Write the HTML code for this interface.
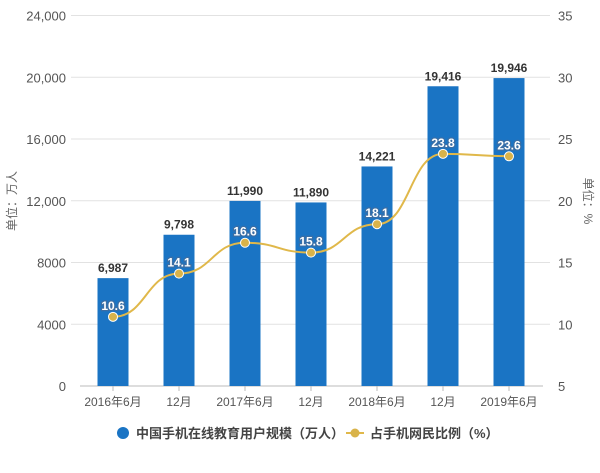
<!DOCTYPE html>
<html><head><meta charset="utf-8"><style>
body{margin:0;background:#fff;}
svg text{font-family:"Liberation Sans","Noto Sans CJK SC",sans-serif;}
</style></head><body>
<svg id="c" width="600" height="468" xmlns="http://www.w3.org/2000/svg"></svg>
<script>
const categories=["2016年6月","12月","2017年6月","12月","2018年6月","12月","2019年6月"];
const users=[6987,9798,11990,11890,14221,19416,19946];
const ratio=[10.6,14.1,16.6,15.8,18.1,23.8,23.6];
const leftTicks=[0,4000,8000,12000,16000,20000,24000];
const rightTicks=[5,10,15,20,25,30,35];
const NS="http://www.w3.org/2000/svg";
const svg=document.getElementById('c');
const yTop=15.5,bot=386,x0=80,band=66;
const yL=v=>bot-(v/24000)*(bot-yTop);
const yR=v=>bot-((v-5)/30)*(bot-yTop);
const xC=i=>x0+band*(i+0.5);
function el(t,a,txt){const e=document.createElementNS(NS,t);for(const k in a)e.setAttribute(k,a[k]);if(txt!==undefined)e.textContent=txt;svg.appendChild(e);return e;}
leftTicks.forEach(v=>{
 if(v>0){const g=el('line',{x1:71,x2:550,y1:yL(v),y2:yL(v),stroke:'#e2e2e2','stroke-width':1});
 
 }
 const t=el('text',{x:66,y:yL(v)+5,'text-anchor':'end','font-size':13,fill:'#555'},v>=10000?v.toLocaleString('en-US'):String(v));
 
 
});
rightTicks.forEach(v=>{
 const t=el('text',{x:558,y:yR(v)+5,'font-size':13,fill:'#555'},String(v));
 
 
});
const ax=el('line',{x1:80,x2:543,y1:bot,y2:bot,stroke:'#bbb','stroke-width':1});


categories.forEach((c,i)=>{
 const tk=el('line',{x1:xC(i),x2:xC(i),y1:bot,y2:bot+5,stroke:'#bbb'});
 
 
 const t=el('text',{x:xC(i),y:406,'text-anchor':'middle','font-size':12,fill:'#555'},c);
 
 
});
users.forEach((v,i)=>{
 const r=el('rect',{x:xC(i)-15.5,y:yL(v),width:31,height:bot-yL(v),fill:'#1a74c4'});
 
 
 const t=el('text',{x:xC(i),y:yL(v)-6,'text-anchor':'middle','font-size':12,'font-weight':'bold',fill:'#333'},v.toLocaleString('en-US'));
 
 
});
const pts=ratio.map((v,i)=>[xC(i),yR(v)]);
let d='M'+pts[0][0]+','+pts[0][1];
for(let i=0;i<pts.length-1;i++){const [a,b]=pts[i],[c,e]=pts[i+1];const m=(c-a)/2;d+=` C${a+m},${b} ${c-m},${e} ${c},${e}`;}
const ln=el('path',{d:d,fill:'none',stroke:'#e0b84a','stroke-width':2});


ratio.forEach((v,i)=>{
 const p=el('circle',{cx:xC(i),cy:yR(v),r:4.5,fill:'#d9b34a',stroke:'#fff','stroke-width':1});
 
 
 const t=el('text',{x:xC(i),y:yR(v)-7,'text-anchor':'middle','font-size':12,'font-weight':'bold',fill:'#fff',stroke:'#3a6ea5','stroke-width':2.5,'paint-order':'stroke'},v.toFixed(1));
 
 
});
const yt=el('text',{transform:'translate(16,201) rotate(-90)','text-anchor':'middle','font-size':12,fill:'#666'},'单位：万人');


const yt2=el('text',{transform:'translate(584,201) rotate(90)','text-anchor':'middle','font-size':12,fill:'#666'},'单位：%');


const lc=el('circle',{cx:123,cy:433,r:6,fill:'#1a74c4'});


const lt=el('text',{x:136,y:438,'font-size':13,'font-weight':'bold',fill:'#444'},'中国手机在线教育用户规模（万人）');


const ll=el('line',{x1:346,x2:364,y1:433,y2:433,stroke:'#e0b84a','stroke-width':2});


const lp=el('circle',{cx:355,cy:433,r:4.5,fill:'#d9b34a'});


const lt2=el('text',{x:370,y:438,'font-size':13,'font-weight':'bold',fill:'#444'},'占手机网民比例（%）');


</script>
</body></html>
